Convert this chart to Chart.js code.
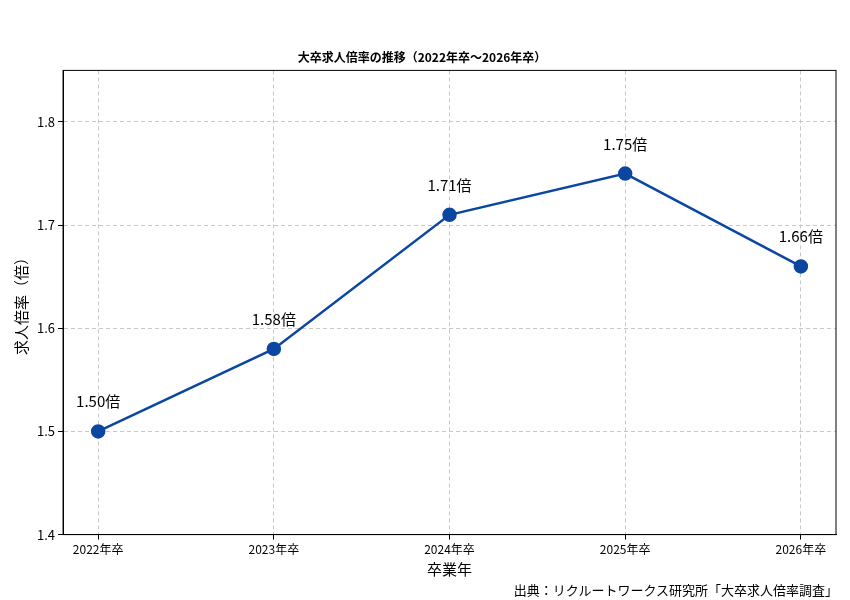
<!DOCTYPE html>
<html>
<head>
<meta charset="utf-8">
<script src="https://cdn.jsdelivr.net/npm/chart.js@4"></script>
<style>
  body { margin: 0; background: #fff; }
  #wrap { width: 850px; height: 600px; position: relative; }
  #source { position: absolute; right: 12px; top: 580px; font: 13px "Noto Sans CJK JP"; color: #000; }
</style>
</head>
<body>
<div id="wrap">
  <canvas id="chart" width="850" height="600"></canvas>
  <div id="source">出典：リクルートワークス研究所「大卒求人倍率調査」</div>
</div>
<script>
const years = ['2022年卒', '2023年卒', '2024年卒', '2025年卒', '2026年卒'];
const ratios = [1.50, 1.58, 1.71, 1.75, 1.66];
const yTicks = [1.4, 1.5, 1.6, 1.7, 1.8];

const font = "'Noto Sans CJK JP'";

// value labels above the points
const pointLabels = {
    id: 'pointLabels',
    afterDatasetsDraw(chart){
        const ctx = chart.ctx;
        const meta = chart.getDatasetMeta(0);
        ctx.save();
        ctx.font = '15px ' + font;
        ctx.fillStyle = '#000';
        ctx.textAlign = 'center';
        meta.data.forEach((pt, i) => {
            ctx.fillText(ratios[i].toFixed(2) + '倍', pt.x, pt.y - 24);
        });
        ctx.restore();
    }
};

new Chart(document.getElementById('chart'), {
    type: 'line',
    data: {
        datasets: [{
            data: ratios.map((v, i) => ({x: i, y: v})),
            borderColor: '#0b47a1',
            backgroundColor: '#0b47a1',
            borderWidth: 2.5,
            pointRadius: 6,
            pointHoverRadius: 6,
            tension: 0
        }]
    },
    options: {
        responsive: false,
        animation: false,
        layout: { padding: { top: 10, right: 14, bottom: 22, left: 8 } },
        plugins: {
            legend: { display: false },
            tooltip: { enabled: false },
            title: {
                display: true,
                text: '大卒求人倍率の推移（2022年卒〜2026年卒）',
                font: { family: font, size: 12 },
                color: '#000',
                padding: { top: 40, bottom: 6 }
            }
        },
        scales: {
            x: {
                type: 'linear',
                min: -0.2,
                max: 4.2,
                afterBuildTicks: axis => { axis.ticks = years.map((_, i) => ({value: i})); },
                ticks: {
                    callback: v => years[v],
                    font: { family: font, size: 12 },
                    color: '#000'
                },
                grid: { color: '#c8c8c8', tickColor: '#000', tickLength: 5 },
                border: { color: '#000', dash: [4, 3] },
                title: { display: true, text: '卒業年', font: { family: font, size: 15 }, color: '#000', padding: 0 }
            },
            y: {
                min: 1.4,
                max: 1.85,
                afterBuildTicks: axis => { axis.ticks = yTicks.map(v => ({value: v})); },
                ticks: {
                    callback: v => v.toFixed(1),
                    font: { family: font, size: 13 },
                    color: '#000'
                },
                grid: { color: '#c8c8c8', tickColor: '#000', tickLength: 5 },
                border: { color: '#000', dash: [4, 3] },
                title: { display: true, text: '求人倍率（倍）', font: { family: font, size: 15 }, color: '#000' }
            }
        }
    },
    plugins: [pointLabels, {
        id: 'frame',
        afterDraw(chart){
            const a = chart.chartArea, ctx = chart.ctx;
            ctx.save();
            ctx.strokeStyle = '#000';
            ctx.lineWidth = 1;
            ctx.strokeRect(a.left, a.top, a.right - a.left, a.bottom - a.top);
            ctx.restore();
        }
    }]
});
</script>
</body>
</html>
